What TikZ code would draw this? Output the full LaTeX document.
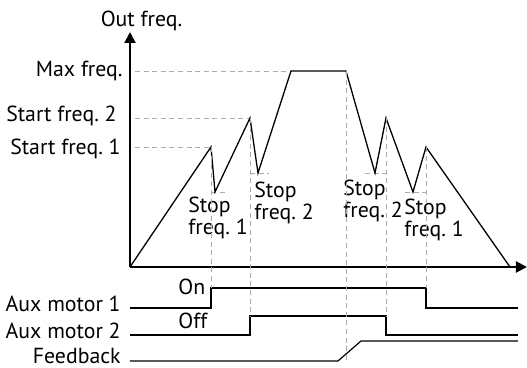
\documentclass[tikz,border=0pt]{standalone}
\usepackage{fontspec}
\setmainfont{PT Sans}
\usetikzlibrary{arrows.meta}
\frenchspacing
\begin{document}
\begin{tikzpicture}[x=0.5pt, y=-0.5pt, >={Triangle[length=5.5pt, width=5.5pt]},
    font=\fontsize{10.9}{8.75}\selectfont,
    guide/.style={gray!65, line width=0.45pt, dash pattern=on 2.5pt off 1.8pt},
    curve/.style={line width=0.65pt},
    signal/.style={line width=0.6pt},
    axislbl/.style={inner sep=0pt, anchor=base east},
    stoplbl/.style={inner sep=0pt, anchor=north west, align=left}]
    \useasboundingbox (0,0) rectangle (527,368);
    % axes
    \coordinate (o) at (130,267);
    \draw[->, line width=1pt] (o) -- (527,267);
    \draw[->, line width=1pt] (o) -- (130,32);
    \node[inner sep=0pt, anchor=base] (outf) at (141.5,26.5) {Out freq.};
    % corners of the frequency profile
    \coordinate (p1) at (211,147);
    \coordinate (t1) at (215,192);
    \coordinate (p2) at (250,118);
    \coordinate (t2) at (258,173);
    \coordinate (m1) at (291,71);
    \coordinate (m2) at (346,71);
    \coordinate (t3) at (375,173);
    \coordinate (p3) at (386,118);
    \coordinate (t4) at (413,192);
    \coordinate (p4) at (426,147);
    \coordinate (e) at (510,267);
    % levels on the axis
    \node[axislbl] (maxf) at (123,77) {Max freq.};
    \node[axislbl] (start2) at (117,121.5) {Start freq. 2};
    \node[axislbl] (start1) at (121,155) {Start freq. 1};
    \draw[guide] ([xshift=2.5pt]o |- m1) -- (m1);
    \draw[guide] ([xshift=2.5pt]o |- p2) -- (p2);
    \draw[guide] ([xshift=2.5pt]o |- p1) -- (p1);
    % stop markers
    \draw[guide] (p1 |- t1) -- ([xshift=5pt]t1);
    \draw[guide] (p2 |- t2) -- ([xshift=5.5pt]t2);
    \draw[guide] ([xshift=-5pt]t3) -- (p3 |- t3);
    \draw[guide] ([xshift=-4pt]t4) -- (p4 |- t4);
    \node[stoplbl] (stop1a) at (188,197) {Stop\\freq. 1};
    \node[stoplbl] (stop2a) at (254,182) {Stop\\freq. 2};
    \node[stoplbl] (stop2b) at (343,179.5) {Stop\\freq. 2};
    \node[stoplbl] (stop1b) at (404,199) {Stop\\freq. 1};
    % switching signals
    \node[axislbl] (aux1) at (121,312) {Aux motor 1};
    \node[axislbl] (aux2) at (121,339) {Aux motor 2};
    \node[axislbl] (fb) at (121,364) {Feedback};
    \node[inner sep=0pt, anchor=base west] (on) at (178,295) {On};
    \node[inner sep=0pt, anchor=base west] (off) at (178,329) {Off};
    \coordinate (a1) at (130,308);
    \coordinate (a2) at (130,335);
    \coordinate (f1) at (130,361);
    \draw[signal] (a1) -- (a1 -| p1) -- (p1 |- 0,288) -- (p4 |- 0,288) -- (p4 |- a1) -- (518,308);
    \draw[signal] (a2) -- (a2 -| p2) -- (p2 |- 0,316) -- (p3 |- 0,316) -- (p3 |- a2) -- (518,335);
    \draw[signal] (f1) -- (338,361) -- (361,341) -- (518,341);
    \draw[curve] (o) -- (p1) -- (t1) -- (p2) -- (t2) -- (m1) -- (m2) -- (t3) -- (p3) -- (t4) -- (p4) -- (e);
    % switching instants
    \draw[guide] (p1) -- (p1 |- 0,288);
    \draw[guide] (p2) -- (p2 |- 0,316);
    \draw[guide] (m2) -- (m2 |- f1);
    \draw[guide] (p3) -- (p3 |- 0,316);
    \draw[guide] (p4) -- (p4 |- 0,288);
\end{tikzpicture}
\end{document}
